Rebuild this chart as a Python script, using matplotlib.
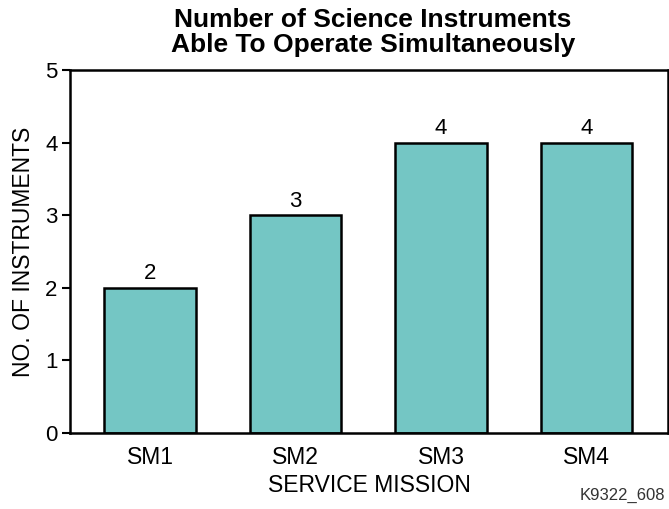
import matplotlib
matplotlib.use("Agg")
import matplotlib.pyplot as plt

missions = ["SM1", "SM2", "SM3", "SM4"]
instruments = [2, 3, 4, 4]

plt.rcParams['font.family'] = ['Liberation Sans', 'DejaVu Sans']

fig = plt.figure(figsize=(6.69, 5.09), dpi=100)
ax = fig.add_axes([0.1046, 0.1493, 0.894, 0.7132])

x = range(len(missions))
ax.bar(x, instruments, width=0.63, color='#74c6c4',
       edgecolor='black', linewidth=1.8)
for xi, v in zip(x, instruments):
    ax.text(xi, v + 0.05, str(v), ha='center', va='bottom', fontsize=16)

ax.set_xlim(-0.55, 3.56)
ax.set_ylim(0, 5)
ax.set_xticks(list(x))
ax.set_xticklabels(missions, fontsize=16.5)
ax.set_yticks(range(6))
ax.tick_params(axis='y', labelsize=16, length=6, width=1.5,
               direction='out', pad=3)
ax.tick_params(axis='x', length=0, pad=9)
for s in ax.spines.values():
    s.set_linewidth(1.8)

ax.set_xlabel('SERVICE MISSION', fontsize=16.5, labelpad=4)
ax.set_ylabel('NO. OF INSTRUMENTS', fontsize=16.5, labelpad=7)
fig.suptitle('Number of Science Instruments\nAble To Operate Simultaneously',
             x=0.557, y=0.985, va='top', fontsize=19, fontweight='bold',
             linespacing=1.05)
fig.text(0.994, 0.012, 'K9322_608', ha='right', va='bottom', fontsize=12,
         color='#333333')

fig.savefig('out.png', dpi=100)
